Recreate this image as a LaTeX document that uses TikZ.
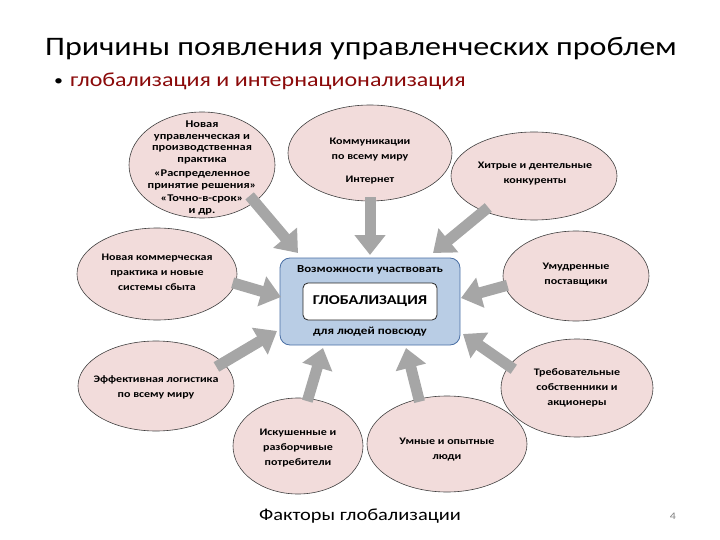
\documentclass[tikz,border=0pt]{standalone}
\usepackage{fontspec}
\setmainfont{Carlito}[FakeStretch=1.2]
\usetikzlibrary{shapes.geometric,arrows.meta}
\definecolor{pinkfill}{HTML}{F2DCDB}
\definecolor{ellline}{HTML}{404040}
\definecolor{boxfill}{HTML}{B9CDE5}
\definecolor{boxline}{HTML}{4A6FA5}
\definecolor{arrowgray}{HTML}{A6A6A6}
\definecolor{bulletred}{HTML}{8B0A0A}
\begin{document}
\begin{tikzpicture}[x=1pt,y=-1pt,
  ell/.style={ellipse, draw=ellline, line width=0.6pt, fill=pinkfill, inner sep=0pt},
  etext/.style={align=center, inner sep=0pt, font=\bfseries\fontsize{10}{15}\selectfont},
  bigarrow/.style={draw=arrowgray, line width=11pt, -{Triangle[width=30pt,length=20pt]}}]
\useasboundingbox (0,0) rectangle (720,540);
% title
\node[anchor=base west, inner sep=0pt, font=\fontsize{26.7}{30}\selectfont] (title) at (45,56) {Причины появления управленческих проблем};
\node[anchor=base west, inner sep=0pt, font=\fontsize{15}{18}\selectfont] (bullet) at (54,86) {•};
\node[anchor=base west, inner sep=0pt, text=bulletred, font=\fontsize{20}{22}\selectfont] (sub) at (70,87) {глобализация и интернационализация};
% ellipses
\node[ell, minimum width=146pt, minimum height=106pt] (e1) at (202,165) {};
\node[ell, minimum width=164pt, minimum height=96pt] (e2) at (370,153) {};
\node[ell, minimum width=166pt, minimum height=88pt] (e3) at (534,176) {};
\node[ell, minimum width=160pt, minimum height=92pt] (e4) at (157,274) {};
\node[ell, minimum width=146pt, minimum height=90pt] (e5) at (576,276) {};
\node[ell, minimum width=156pt, minimum height=90pt] (e6) at (156,386) {};
\node[ell, minimum width=152pt, minimum height=98pt] (e7) at (577,388) {};
\node[ell, minimum width=130pt, minimum height=96pt] (e8) at (298,446) {};
\node[ell, minimum width=160pt, minimum height=96pt] (e9) at (447,444) {};
% ellipse texts
\node[etext, font=\bfseries\fontsize{10.3}{11.5}\selectfont] (t1) at (202,168) {Новая\\управленческая и\\производственная\\практика\\[3pt]«Распределенное\\принятие решения»\\[2pt]«Точно-в-срок»\\и др.};
\node[etext] (t2) at (370,161) {Коммуникации\\по всему миру\\[8pt]Интернет};
\node[etext] (t3) at (535,174) {Хитрые и дентельные\\конкуренты};
\node[etext] (t4) at (157,272) {Новая коммерческая\\практика и новые\\системы сбыта};
\node[etext] (t5) at (576,275) {Умудренные\\поставщики};
\node[etext] (t6) at (156,387) {Эффективная логистика\\по всему миру};
\node[etext] (t7) at (577,388) {Требовательные\\собственники и\\акционеры};
\node[etext] (t8) at (298,448) {Искушенные и\\разборчивые\\потребители};
\node[etext] (t9) at (447,450) {Умные и опытные\\люди};
% center box
\node[draw=boxline, fill=boxfill, rounded corners=10pt, line width=0.8pt, minimum width=180pt, minimum height=87pt] (box) at (370,301.5) {};
\node[draw=black!85, fill=white, rounded corners=5pt, line width=0.8pt, minimum width=134pt, minimum height=37pt, font=\bfseries\fontsize{13.5}{16}\selectfont] (glob) at (370,301.5) {ГЛОБАЛИЗАЦИЯ};
\node[inner sep=0pt, font=\bfseries\fontsize{10.7}{13}\selectfont] (btop) at (370,270) {Возможности участвовать};
\node[inner sep=0pt, font=\bfseries\fontsize{10.9}{13}\selectfont] (bbot) at (370,332) {для людей повсюду};
% arrow tips
\coordinate (p1) at (298,253);
\coordinate (p2) at (370,255);
\coordinate (p3) at (433,253);
\coordinate (p4) at (281,297);
\coordinate (p5) at (461,298);
\coordinate (p6) at (277,331);
\coordinate (p7) at (463,334);
\coordinate (p8) at (323,348);
\coordinate (p9) at (406,348);
\draw[bigarrow, shorten <=-8pt] (e1.-35) -- (p1);
\draw[bigarrow, shorten <=-4pt] (e2.south) -- (p2);
\draw[bigarrow, shorten <=-6pt] (e3.-145) -- (p3);
\draw[bigarrow, shorten <=-3pt] (e4.-7) -- (p4);
\draw[bigarrow, shorten <=-3pt] (e5.188) -- (p5);
\draw[bigarrow, shorten <=-8pt] (e6.19) -- (p6);
\draw[bigarrow, shorten <=-6pt] (e7.162) -- (p7);
\draw[bigarrow, shorten <=-3pt] (e8.78) -- (p8);
\draw[bigarrow, shorten <=-3pt] (e9.122) -- (p9);
% footer
\node[anchor=base, inner sep=0pt, font=\fontsize{17}{19}\selectfont] (foot) at (360,520) {Факторы глобализации};
\node[anchor=base, inner sep=0pt, text=black!50, font=\fontsize{10}{12}\selectfont] (pnum) at (673,519) {4};
\end{tikzpicture}
\end{document}
